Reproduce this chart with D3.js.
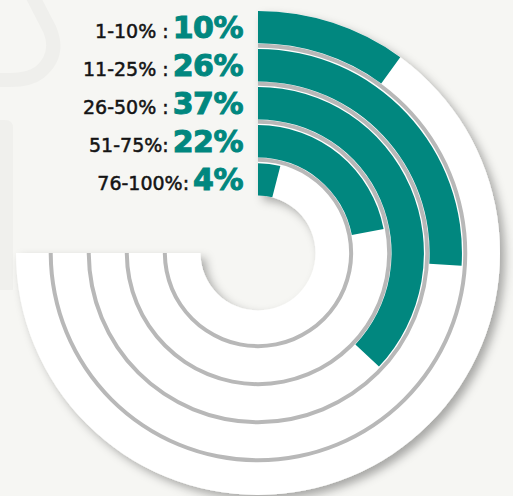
<!DOCTYPE html>
<html>
<head>
<meta charset="utf-8">
<script src="https://cdn.jsdelivr.net/npm/d3@7"></script>
<style>
    html, body { margin: 0; padding: 0; background: #f6f6f3; overflow: hidden; }
    svg { display: block; }
</style>
</head>
<body>
<div id="chart"></div>
<script>
'use strict';

// Data
const categories = ['1-10% :', '11-25% :', '26-50% :', '51-75%:', '76-100%:'];
const values = [10, 26, 37, 22, 4];
const valueLabels = ['10%', '26%', '37%', '22%', '4%'];
const trackMax = 75; // white track runs to 9 o'clock

// Config
const w = 513;
const h = 496;
const cx = 258;
const cy = 253;
const teal = '#01877f';

const svg = d3.select('#chart')
    .append('svg')
    .attr('width', w)
    .attr('height', h);

// Shadow filter
const defs = svg.append('defs');
const shadow = defs.append('filter')
    .attr('id', 'discShadow')
    .attr('x', '-20%').attr('y', '-20%')
    .attr('width', '140%').attr('height', '140%');
shadow.append('feDropShadow')
    .attr('dx', 5).attr('dy', 5)
    .attr('stdDeviation', 5)
    .attr('flood-color', '#000')
    .attr('flood-opacity', 0.32);

// Background
svg.append('rect')
    .attr('width', w).attr('height', h)
    .attr('fill', '#f6f6f3');

// Faint watermark shapes
const bgG = svg.append('g').attr('class', 'bgG');
bgG.append('path')
    .attr('d', 'M32,-5 L50,30 Q60,55 40,72 Q30,80 10,80 L-5,80')
    .attr('fill', 'none')
    .attr('stroke', '#efefec')
    .attr('stroke-width', 14);
bgG.append('path')
    .attr('d', 'M-5,120 L5,120 Q13,120 13,128 L13,290 L-5,290 Z')
    .attr('fill', '#f0f0ed');

// Scales
const angleScale = d3.scaleLinear()
    .domain([0, 100])
    .range([0, 2 * Math.PI]);

const radiusScale = d3.scaleBand()
    .domain(categories)
    .range([242, 57.5])
    .paddingInner(0.15)
    .paddingOuter(0);

const bw = radiusScale.bandwidth();
const outerR = radiusScale(categories[0]) + bw;
const innerR = radiusScale(categories[categories.length - 1]);

const arc = d3.arc();

const radialG = svg.append('g')
    .attr('class', 'radialG')
    .attr('transform', `translate(${cx},${cy})`);

// White disc (270 degree track)
radialG.append('path')
    .attr('class', 'disc')
    .attr('d', arc({
        innerRadius: innerR,
        outerRadius: outerR,
        startAngle: angleScale(0),
        endAngle: angleScale(trackMax)
    }))
    .attr('fill', '#ffffff')
    .attr('filter', 'url(#discShadow)');

// Gray grooves between rings
radialG.selectAll('.groove')
    .data(categories.slice(0, categories.length - 1))
    .join('path')
    .attr('class', 'groove')
    .attr('d', d => arc({
        innerRadius: radiusScale(d) - 4.4,
        outerRadius: radiusScale(d) - 0.4,
        startAngle: angleScale(0),
        endAngle: angleScale(trackMax)
    }))
    .attr('fill', '#b8b8b8');

// Teal bars
radialG.selectAll('.bar')
    .data(categories)
    .join('path')
    .attr('class', 'bar')
    .attr('d', (d, i) => arc({
        innerRadius: radiusScale(d),
        outerRadius: radiusScale(d) + bw,
        startAngle: angleScale(0),
        endAngle: angleScale(values[i])
    }))
    .attr('fill', teal);

// Labels
const labelG = svg.append('g').attr('class', 'labelG');
const rows = labelG.selectAll('text')
    .data(categories)
    .join('text')
    .attr('x', 243)
    .attr('y', d => cy - (radiusScale(d) + bw / 2) + 11)
    .attr('text-anchor', 'end');

rows.append('tspan')
    .attr('font-family', '"DejaVu Sans", sans-serif')
    .attr('font-size', 19)
    .attr('fill', '#141414')
    .attr('stroke', '#141414')
    .attr('stroke-width', 0.5)
    .text(d => d);

rows.append('tspan')
    .attr('dx', 4)
    .attr('font-family', '"DejaVu Sans", sans-serif')
    .attr('font-weight', 'bold')
    .attr('font-size', 30)
    .attr('fill', teal)
    .attr('stroke', teal)
    .attr('stroke-width', 1)
    .attr('letter-spacing', -0.5)
    .text((d, i) => valueLabels[i]);
</script>
</body>
</html>
